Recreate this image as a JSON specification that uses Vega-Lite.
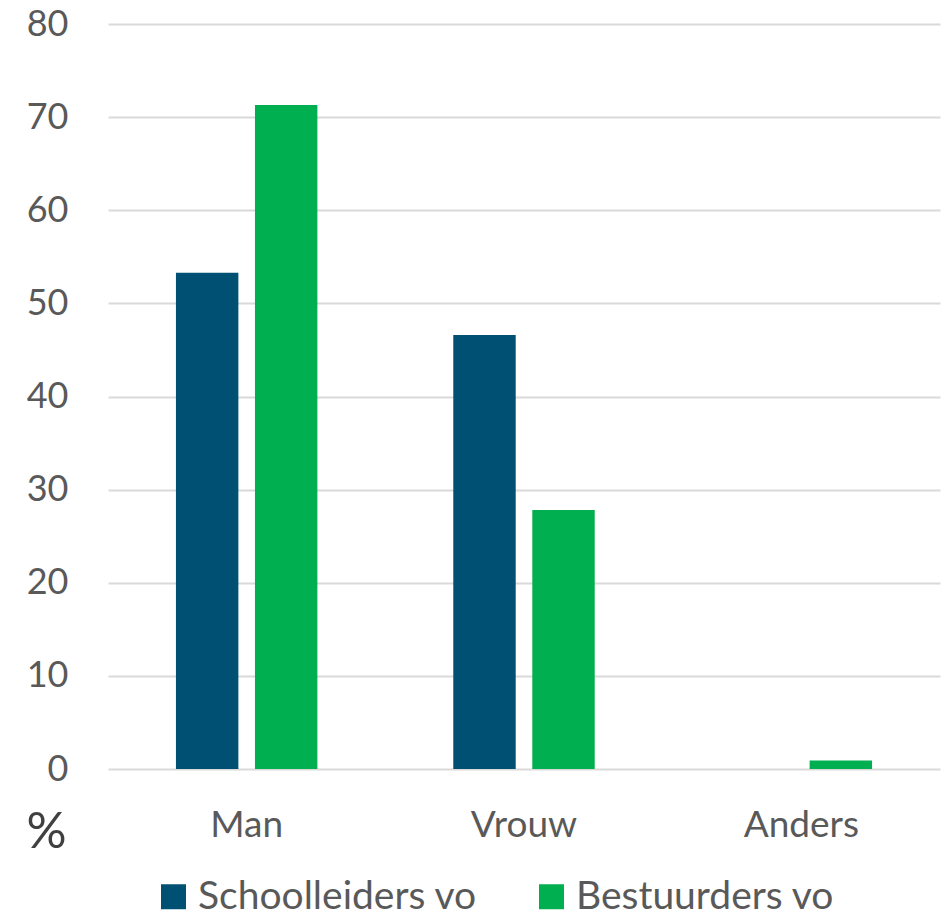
{
  "$schema": "https://vega.github.io/schema/vega-lite/v6.json",
  "width": 832,
  "height": 745,
  "autosize": {"type": "none"},
  "padding": {"left": 108, "top": 24, "right": 8, "bottom": 148},
  "background": "white",
  "data": {
    "values": [
      {"cat": "Man", "group": "Schoolleiders vo", "value": 53.3},
      {"cat": "Man", "group": "Bestuurders vo", "value": 71.3},
      {"cat": "Vrouw", "group": "Schoolleiders vo", "value": 46.6},
      {"cat": "Vrouw", "group": "Bestuurders vo", "value": 27.8},
      {"cat": "Anders", "group": "Schoolleiders vo", "value": 0},
      {"cat": "Anders", "group": "Bestuurders vo", "value": 0.9}
    ]
  },
  "config": {
    "view": {"stroke": null},
    "font": "Lato"
  },
  "mark": {"type": "bar"},
  "encoding": {
    "x": {
      "field": "cat",
      "type": "nominal",
      "sort": ["Man", "Vrouw", "Anders"],
      "scale": {"paddingInner": 0.49, "paddingOuter": 0.245},
      "axis": {
        "title": null,
        "labelAngle": 0,
        "labelFontSize": 37,
        "labelColor": "#595959",
        "labelPadding": 38,
        "ticks": false,
        "domain": false,
        "labelFont": "Lato"
      }
    },
    "xOffset": {
      "field": "group",
      "type": "nominal",
      "sort": ["Schoolleiders vo", "Bestuurders vo"],
      "scale": {"paddingInner": 0.21, "paddingOuter": 0}
    },
    "y": {
      "field": "value",
      "type": "quantitative",
      "scale": {"domain": [0, 80], "nice": false},
      "axis": {
        "values": [0, 10, 20, 30, 40, 50, 60, 70, 80],
        "title": "%",
        "titleAngle": 0,
        "titleX": -62,
        "titleY": 808,
        "titleAlign": "center",
        "titleBaseline": "middle",
        "titleFontSize": 50,
        "titleFontWeight": "normal",
        "titleColor": "#404040",
        "titleFont": "Lato",
        "labelFontSize": 36,
        "labelColor": "#595959",
        "labelPadding": 40,
        "labelFont": "Lato",
        "ticks": false,
        "domain": false,
        "grid": true,
        "gridColor": "#d9d9d9",
        "gridWidth": 2
      }
    },
    "color": {
      "field": "group",
      "type": "nominal",
      "sort": ["Schoolleiders vo", "Bestuurders vo"],
      "scale": {"domain": ["Schoolleiders vo", "Bestuurders vo"], "range": ["#005073", "#00b050"]},
      "legend": {
        "title": null,
        "orient": "none",
        "direction": "horizontal",
        "legendX": 46,
        "legendY": 853,
        "symbolType": "square",
        "symbolSize": 625,
        "symbolStrokeWidth": 0,
        "symbolOpacity": 1,
        "labelFontSize": 39,
        "labelColor": "#595959",
        "labelFont": "Lato",
        "labelLimit": 500,
        "labelOffset": 5,
        "columnPadding": 54
      }
    }
  }
}
